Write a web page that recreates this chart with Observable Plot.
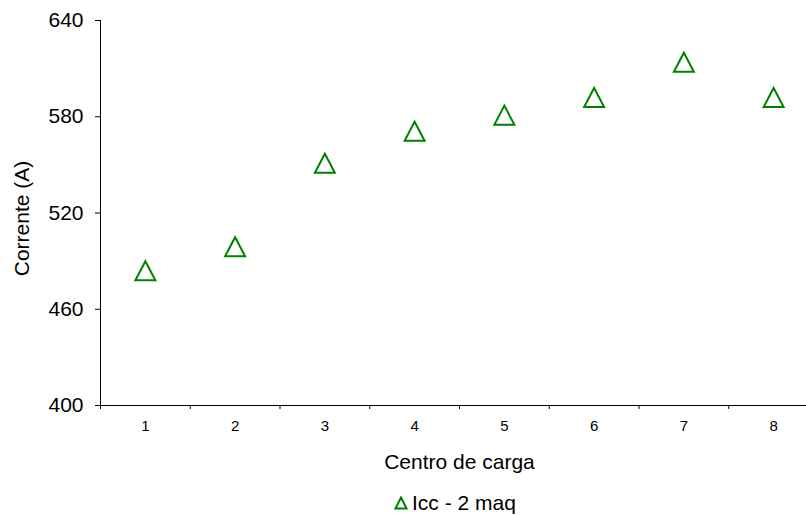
<!DOCTYPE html>
<html>
<head>
<meta charset="utf-8">
<script src="https://cdn.jsdelivr.net/npm/d3@7"></script>
<script src="https://cdn.jsdelivr.net/npm/@observablehq/plot@0.6"></script>
<style>
  html, body { margin: 0; padding: 0; background: #fff; overflow: hidden; }
  body { width: 806px; height: 515px; position: relative; font-family: "Liberation Sans", Arial, sans-serif; }
  #legend { position: absolute; top: 492px; left: 394px; font-size: 21px; line-height: 21px; color: #000; display: flex; align-items: center; white-space: nowrap; }
  #legend svg { margin-right: 4px; }
</style>
</head>
<body>
<div id="chart"></div>
<div id="legend"></div>
<script>
// Data
const categories = [1, 2, 3, 4, 5, 6, 7, 8];
const values = [484, 499, 551, 571, 581, 592, 614, 592];
const seriesName = "Icc - 2 maq";
const yTicks = [400, 460, 520, 580, 640];
const xBoundaries = [0.5, 1.5, 2.5, 3.5, 4.5, 5.5, 6.5, 7.5, 8.5];
const xTitle = "Centro de carga";
const yTitle = "Corrente (A)";

const data = categories.map((c, i) => ({c, v: values[i]}));
const green = "#008000";

// Triangle symbol with its bounding box centred on the data point
const triangle = {
  draw(ctx, size) {
    const r = Math.sqrt(size / Math.PI);
    ctx.moveTo(0, -r);
    ctx.lineTo(r * 1.05, r);
    ctx.lineTo(-r * 1.05, r);
    ctx.closePath();
  }
};

const plot = Plot.plot({
  width: 806,
  height: 480,
  marginLeft: 100,
  marginRight: 0,
  marginTop: 20,
  marginBottom: 75,
  style: {fontFamily: "Liberation Sans, Arial, sans-serif", color: "#000", background: "#fff", overflow: "visible"},
  x: {type: "linear", domain: [xBoundaries[0], xBoundaries[xBoundaries.length - 1]], range: [100, 818]},
  y: {domain: [yTicks[0], yTicks[yTicks.length - 1]]},
  marks: [
    Plot.ruleY([yTicks[0]], {stroke: "#000", strokeWidth: 1}),
    Plot.ruleX([xBoundaries[0]], {stroke: "#000", strokeWidth: 1}),
    Plot.axisY({ticks: yTicks, tickSize: 5, tickPadding: 12, fontSize: 21, label: null, stroke: "#000", strokeOpacity: 1}),
    Plot.axisX({ticks: xBoundaries, tickSize: 4, tickFormat: () => "", label: null, stroke: "#000", strokeOpacity: 1}),
    Plot.axisX({ticks: categories, tickSize: 0, tickPadding: 15, fontSize: 15, label: null, tickFormat: d => String(d)}),
    Plot.text([xTitle], {frameAnchor: "bottom", lineAnchor: "bottom", textAnchor: "middle", dy: 63, dx: 6, fontSize: 21, fill: "#000"}),
    Plot.text([yTitle], {frameAnchor: "left", textAnchor: "middle", lineAnchor: "middle", rotate: -90, dx: -78, dy: 5.5, fontSize: 21, fill: "#000"}),
    Plot.dot(data, {x: "c", y: "v", symbol: triangle, r: 9.5, stroke: green, strokeWidth: 2, fill: "none"})
  ]
});
document.getElementById("chart").appendChild(plot);

// Legend
const leg = document.getElementById("legend");
leg.innerHTML = `<svg width="14" height="14" viewBox="0 0 14 14"><path d="M7,1.5 L12.5,12.5 L1.5,12.5 Z" fill="none" stroke="${green}" stroke-width="2"/></svg><span>${seriesName}</span>`;
</script>
</body>
</html>
